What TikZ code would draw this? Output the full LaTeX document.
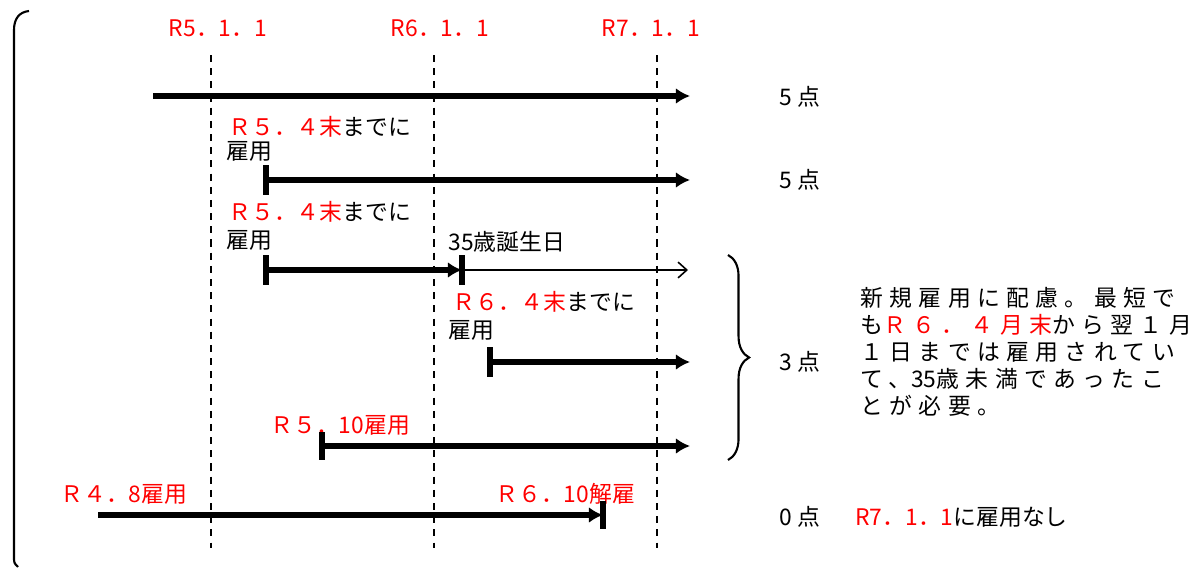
\documentclass[tikz,border=0pt]{standalone}
\usepackage{fontspec}
\setmainfont{Noto Sans CJK JP}
\newfontfamily\spacedfont[LetterSpace=28]{Noto Sans CJK JP}
\usetikzlibrary{decorations.pathreplacing,arrows.meta}
\tikzset{
  >={Latex[length=8pt,width=9pt]},
  x=0.02cm,
  y=-0.02cm,
}
\tikzstyle{period}=[line width=3.1pt,->]
\tikzstyle{bar}=[line width=3.1pt]
\tikzstyle{dateline}=[line width=0.9pt,dash pattern=on 4pt off 3.5pt]
\tikzstyle{date}=[text=red]
\tikzstyle{every node}=[font=\fontsize{13}{15}\selectfont,inner sep=0pt]

\begin{document}
\begin{tikzpicture}
    \useasboundingbox (0,0) rectangle (1196,568);
    % left bracket
    \draw[line width=1.2pt] (29,11) .. controls (19,12) and (14,19) .. (14,30)
      -- (14,556) .. controls (14,563) .. (18,567);
    % date columns
    \foreach \x/\lx/\d in {211/218/5,434/440/6,657/651/7}{
      \node[date] (d\d) at (\lx,28) {R\d．1．1};
      \coordinate (t\d) at (\x,55);
      \coordinate (b\d) at (\x,548);
      \draw[dateline] (t\d) -- (b\d);
    }
    % row 1
    \coordinate (s1) at (153,96);
    \coordinate (e1) at (690,96);
    \draw[period] (s1) -- (e1);
    \node (p1) at (800,97) {5 点};
    % row 2
    \node[anchor=west] (l2a) at (228,127) {\textcolor{red}{Ｒ５．４末}までに};
    \node[anchor=west] (l2b) at (226,151) {雇用};
    \coordinate (s2) at (266,180);
    \coordinate (e2) at (690,180);
    \draw[bar] (s2) ++(0,-15) -- ++(0,30);
    \draw[period] (s2) -- (e2);
    \node (p2) at (800,180) {5 点};
    % row 3
    \node[anchor=west] (l3a) at (228,212) {\textcolor{red}{Ｒ５．４末}までに};
    \node[anchor=west] (l3b) at (226,240) {雇用};
    \node[anchor=west] (bd) at (448,242) {35歳誕生日};
    \coordinate (s3) at (266,270);
    \coordinate (m3) at (462,270);
    \coordinate (e3) at (688,270);
    \draw[bar] (s3) ++(0,-15) -- ++(0,30);
    \draw[bar] (m3) ++(0,-15) -- ++(0,30);
    \draw[period] (s3) -- (m3);
    \draw[-{Straight Barb[length=5pt,width=9pt]},line width=0.9pt] (m3) -- (e3);
    % row 4
    \node[anchor=west] (l4a) at (452,302) {\textcolor{red}{Ｒ６．４末}までに};
    \node[anchor=west] (l4b) at (448,330) {雇用};
    \coordinate (s4) at (490,362);
    \coordinate (e4) at (690,362);
    \draw[bar] (s4) ++(0,-15) -- ++(0,30);
    \draw[period] (s4) -- (e4);
    % row 5
    \node[date,anchor=west] (l5) at (270,425) {Ｒ５．10雇用};
    \coordinate (s5) at (322,446);
    \coordinate (e5) at (690,446);
    \draw[bar] (s5) ++(0,-14) -- ++(0,28);
    \draw[period] (s5) -- (e5);
    % rows 3-5 share a score
    \draw[line width=1.2pt,decorate,decoration={brace,amplitude=12pt}]
      (728,255) -- (728,460);
    \node (p3) at (800,362) {3 点};
    \node[anchor=north west,align=left,font=\spacedfont\fontsize{13}{15.3}\selectfont]
      (note) at (860,287) {新規雇用に配慮。最短で\\
      も\textcolor{red}{Ｒ６．４月末}から翌１月\\
      １日までは雇用されてい\\
      て、{\rmfamily 35}歳未満であったこ\\
      とが必要。};
    % row 6
    \node[date,anchor=west] (l6a) at (60,494) {Ｒ４．8雇用};
    \node[date,anchor=west] (l6b) at (495,494) {Ｒ６．10解雇};
    \coordinate (s6) at (98,515);
    \coordinate (e6) at (603,515);
    \draw[period] (s6) -- (e6);
    \draw[bar] (e6) ++(0,-14) -- ++(0,28);
    \node (p0) at (800,517) {0 点};
    \node[anchor=west] (none) at (855,517) {\textcolor{red}{R7．1．1}に雇用なし};
\end{tikzpicture}
\end{document}
